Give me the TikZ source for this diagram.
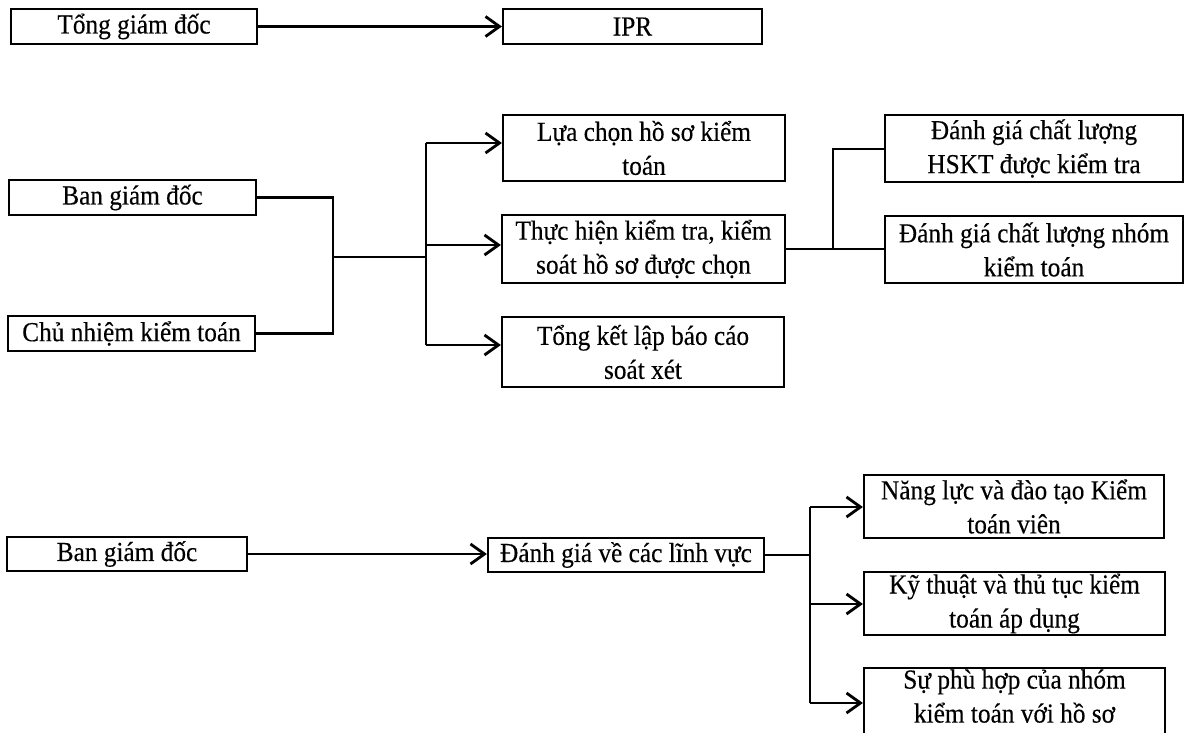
\documentclass[tikz,border=0pt]{standalone}
\usepackage{fontspec}
\setmainfont{Liberation Serif}[FakeStretch=0.92,FakeBold=0.3]
\usetikzlibrary{arrows.meta}

\tikzset{
  box/.style={rectangle,draw,line width=2.2pt,inner sep=0pt,align=center,
    font=\fontsize{27.5}{34}\selectfont},
  link/.style={line width=2.6pt},
  arr/.style={link,-{Straight Barb[length=14pt,width=20pt,line width=2.8pt]}}
}

\begin{document}
\begin{tikzpicture}[x=1pt,y=-1pt]
\useasboundingbox (0,0) rectangle (1189,733);
% top row
\node [box,minimum width=246pt,minimum height=35pt] (tgd) at (134,26.5) {Tổng giám đốc};
\node [box,minimum width=259pt,minimum height=35pt] (ipr) at (632.5,26.5) {IPR};
\draw [arr] (tgd.east) -- (ipr.west);

% middle part
\node [box,minimum width=247pt,minimum height=35pt] (bgd) at (132.5,197.5) {Ban giám đốc};
\node [box,minimum width=247pt,minimum height=35pt] (cnkt) at (131.5,333.5) {Chủ nhiệm kiểm toán};
\node [box,minimum width=282pt,minimum height=66pt] (lchs) at (644,148) {Lựa chọn hồ sơ kiểm\\toán};
\node [box,minimum width=283pt,minimum height=68pt] (thkt) at (643.5,249) {Thực hiện kiểm tra, kiểm\\soát hồ sơ được chọn};
\node [box,minimum width=282pt,minimum height=70pt] (tkbc) at (643,352) {Tổng kết lập báo cáo\\soát xét};
\node [box,minimum width=298pt,minimum height=67pt] (dghs) at (1034,148.5) {Đánh giá chất lượng\\HSKT được kiểm tra};
\node [box,minimum width=298pt,minimum height=67pt] (dgnh) at (1034,249.5) {Đánh giá chất lượng nhóm\\kiểm toán};

\coordinate (ja) at (333,257);
\coordinate (jb) at (426,257);
\coordinate (ta) at (426,143);
\coordinate (tb) at (426,245);
\coordinate (tc) at (426,345);
\draw [link] (bgd.east) -| (ja);
\draw [link] (cnkt.east) -| (ja);
\draw [link] (ja) -- (jb);
\draw [link] (ta) -- (tc);
\draw [arr] (ta) -- (ta -| lchs.west);
\draw [arr] (tb) -- (tb -| thkt.west);
\draw [arr] (tc) -- (tc -| tkbc.west);

\coordinate (jc) at (833,249);
\coordinate (jd) at (833,149);
\draw [link] (thkt.east) -- (jc) -- (jd) -- (jd -| dghs.west);
\draw [link] (jc) -- (jc -| dgnh.west);

% bottom part
\node [box,minimum width=240pt,minimum height=34pt] (bgdb) at (127,554) {Ban giám đốc};
\node [box,minimum width=276pt,minimum height=34pt] (dglv) at (626,555) {Đánh giá về các lĩnh vực};
\node [box,minimum width=300pt,minimum height=63pt] (nldt) at (1014,506.5) {Năng lực và đào tạo Kiểm\\toán viên};
\node [box,minimum width=301pt,minimum height=63pt] (ktth) at (1014.5,603.5) {Kỹ thuật và thủ tục kiểm\\toán áp dụng};
\node [box,minimum width=301pt,minimum height=70pt] (spnh) at (1014.5,703) {Sự phù hợp của nhóm\\kiểm toán với hồ sơ\rule[-14pt]{0pt}{14pt}};
\draw [arr] (bgdb.east) -- (bgdb.east -| dglv.west);

\coordinate (ua) at (810,507);
\coordinate (ub) at (810,604);
\coordinate (uc) at (810,703);
\draw [link] (dglv.east) -- (dglv.east -| ua);
\draw [link] (ua) -- (uc);
\draw [arr] (ua) -- (ua -| nldt.west);
\draw [arr] (ub) -- (ub -| ktth.west);
\draw [arr] (uc) -- (uc -| spnh.west);
\end{tikzpicture}
\end{document}
